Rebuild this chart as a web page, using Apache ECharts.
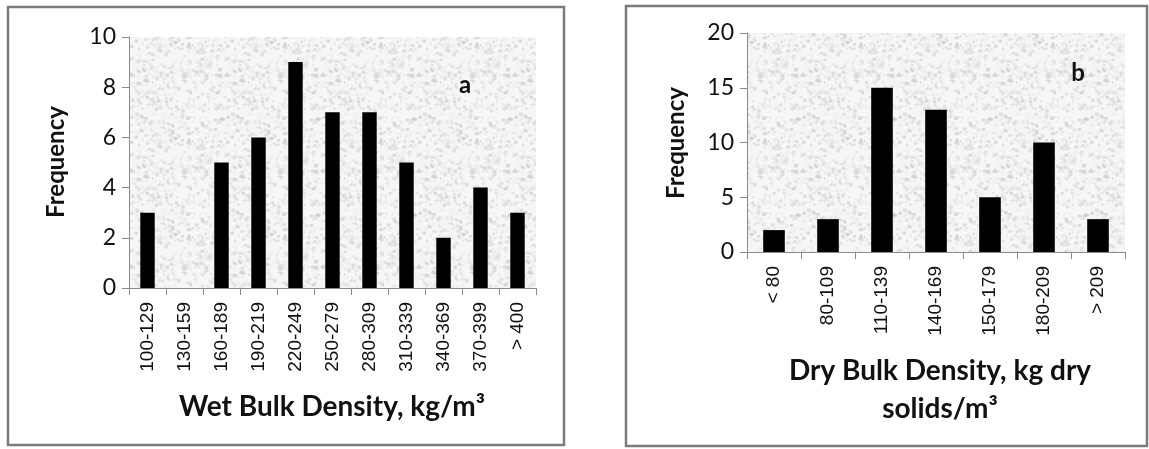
<!DOCTYPE html>
<html>
<head>
<meta charset="utf-8">
<script src="https://cdn.jsdelivr.net/npm/echarts@6/dist/echarts.min.js"></script>
<style>
html,body{margin:0;padding:0;background:#fff;}
#c{width:1149px;height:449px;}
</style>
</head>
<body>
<div id="c"></div>
<script>
// ---- data ----
var wetCategories = ['100-129','130-159','160-189','190-219','220-249','250-279','280-309','310-339','340-369','370-399','> 400'];
var wetFrequency = [3,0,5,6,9,7,7,5,2,4,3];
var dryCategories = ['< 80','80-109','110-139','140-169','150-179','180-209','> 209'];
var dryFrequency = [2,3,15,13,5,10,3];
var wetTicks = [0,2,4,6,8,10];
var dryTicks = [0,5,10,15,20];

// ---- texture for plot areas (style only) ----
function makeTexture(){
  var s = 96, cv = document.createElement('canvas');
  cv.width = s; cv.height = s;
  var ctx = cv.getContext('2d');
  ctx.fillStyle = '#f6f6f6';
  ctx.fillRect(0,0,s,s);
  var seed = 12345;
  function nx(){ seed = (seed * 1103515245 + 12345) & 0x7fffffff; return seed / 0x7fffffff; }
  for (var i = 0; i < 650; i++) {
    var x = nx()*s, y = nx()*s, r = 0.6 + nx()*1.5, g = Math.floor(190 + nx()*55);
    ctx.fillStyle = 'rgba(' + g + ',' + g + ',' + g + ',0.5)';
    ctx.beginPath(); ctx.arc(x,y,r,0,Math.PI*2); ctx.fill();
  }
  return cv;
}
var tex = makeTexture();

var chart = echarts.init(document.getElementById('c'), null, {renderer:'canvas'});
var axisColor = '#8a8a8a';
var numFont = 'Lato, "Open Sans", "Liberation Sans", sans-serif';
var catFont = '"Liberation Sans", Arial, sans-serif';

function yAxisCfg(gi, max, interval){
  return {
    type:'value', gridIndex:gi, min:0, max:max, interval:interval,
    axisLine:{show:true, lineStyle:{color:axisColor, width:1}},
    axisTick:{show:true, length:7, lineStyle:{color:axisColor}},
    splitLine:{show:false},
    axisLabel:{color:'#111', fontSize:23, fontFamily:numFont, margin:13}
  };
}
function xAxisCfg(gi, cats){
  return {
    type:'category', gridIndex:gi, data:cats,
    axisLine:{show:true, lineStyle:{color:axisColor, width:1}},
    axisTick:{show:true, length:7, alignWithLabel:false, lineStyle:{color:axisColor}},
    axisLabel:{rotate:90, color:'#111', fontSize:19, fontFamily:catFont, margin:14, interval:0}
  };
}

var option = {
  animation:false,
  backgroundColor:'#ffffff',
  grid:[
    {left:129, top:37, width:407, height:251, show:true, borderWidth:0, backgroundColor:{image:tex, repeat:'repeat'}},
    {left:747, top:33, width:378, height:219, show:true, borderWidth:0, backgroundColor:{image:tex, repeat:'repeat'}}
  ],
  xAxis:[ xAxisCfg(0, wetCategories), xAxisCfg(1, dryCategories) ],
  yAxis:[ yAxisCfg(0, wetTicks[wetTicks.length-1], wetTicks[1]-wetTicks[0]),
          yAxisCfg(1, dryTicks[dryTicks.length-1], dryTicks[1]-dryTicks[0]) ],
  series:[
    {type:'bar', xAxisIndex:0, yAxisIndex:0, data:wetFrequency, barWidth:'39%', itemStyle:{color:'#000'}},
    {type:'bar', xAxisIndex:1, yAxisIndex:1, data:dryFrequency, barWidth:'40%', itemStyle:{color:'#000'}}
  ],
  graphic:[
    {type:'rect', z:-10, shape:{x:8, y:7, width:556, height:438}, style:{fill:'none', stroke:'#7c7c7c', lineWidth:2.5}},
    {type:'rect', z:-10, shape:{x:626, y:6, width:521, height:440}, style:{fill:'none', stroke:'#7c7c7c', lineWidth:2.5}},
    {type:'text', x:56, y:162, rotation:Math.PI/2, style:{text:'Frequency', font:'bold 24px ' + numFont, fill:'#111', textAlign:'center', textVerticalAlign:'middle'}},
    {type:'text', x:676, y:143, rotation:Math.PI/2, style:{text:'Frequency', font:'bold 24px ' + numFont, fill:'#111', textAlign:'center', textVerticalAlign:'middle'}},
    {type:'text', x:332, y:407, style:{text:'Wet Bulk Density, kg/m³', font:'bold 28px ' + numFont, fill:'#111', textAlign:'center', textVerticalAlign:'middle'}},
    {type:'text', x:940, y:371, style:{text:'Dry Bulk Density, kg dry', font:'bold 28px ' + numFont, fill:'#111', textAlign:'center', textVerticalAlign:'middle'}},
    {type:'text', x:940, y:409, style:{text:'solids/m³', font:'bold 28px ' + numFont, fill:'#111', textAlign:'center', textVerticalAlign:'middle'}},
    {type:'text', x:465, y:85, style:{text:'a', font:'bold 24px ' + numFont, fill:'#111', textAlign:'center', textVerticalAlign:'middle'}},
    {type:'text', x:1078, y:73, style:{text:'b', font:'bold 24px ' + numFont, fill:'#111', textAlign:'center', textVerticalAlign:'middle'}}
  ]
};
chart.setOption(option);
</script>
</body>
</html>
